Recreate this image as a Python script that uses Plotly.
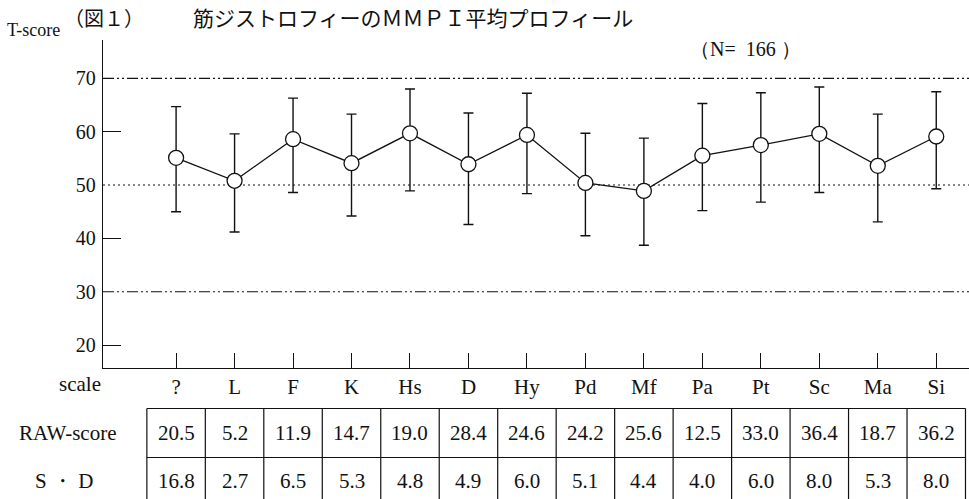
import plotly.graph_objects as go

# ---------------- data ----------------
scales = ["?", "L", "F", "K", "Hs", "D", "Hy", "Pd", "Mf", "Pa", "Pt", "Sc", "Ma", "Si"]
t_mean = [55.1, 50.8, 58.6, 54.1, 59.7, 53.9, 59.4, 50.4, 48.9, 55.5, 57.5, 59.6, 53.6, 59.1]
t_upper = [64.7, 59.6, 66.3, 63.3, 68.0, 63.5, 67.2, 59.7, 58.8, 65.3, 67.3, 68.4, 63.3, 67.5]
t_lower = [45.0, 41.2, 48.6, 44.2, 48.9, 42.6, 48.4, 40.5, 38.7, 45.2, 46.8, 48.6, 43.1, 49.3]
raw_score = ["20.5", "5.2", "11.9", "14.7", "19.0", "28.4", "24.6", "24.2", "25.6", "12.5", "33.0", "36.4", "18.7", "36.2"]
raw_sd = ["16.8", "2.7", "6.5", "5.3", "4.8", "4.9", "6.0", "5.1", "4.4", "4.0", "6.0", "8.0", "5.3", "8.0"]
ref_lines = [70, 50, 30]
ytick_labels = [20, 30, 40, 50, 60, 70]
ytick_marks = [20, 40, 60]
title_a = "（図１）"
title_b = "筋ジストロフィーのＭＭＰＩ平均プロフィール"
n_text = "（N=  166 ）"

# ---------------- styling ----------------
SERIF = "Liberation Serif, Times New Roman, serif"
CJK = "Noto Sans CJK JP, sans-serif"
INK = "#111111"

W, H = 969, 499
L_M, R_M, T_M, B_M = 103, 0, 40, 131
plot_h = H - T_M - B_M
plot_w = W - L_M - R_M


def py(px):  # pixel y -> paper y
    return (H - B_M - px) / plot_h


def pxx(px):  # pixel x -> paper x
    return (px - L_M) / plot_w


err_plus = [u - m for u, m in zip(t_upper, t_mean)]
err_minus = [m - l for m, l in zip(t_mean, t_lower)]

fig = go.Figure()

fig.add_trace(go.Scatter(
    x=scales, y=t_mean, mode="lines+markers",
    line=dict(color=INK, width=1.3),
    marker=dict(size=15, color="white", line=dict(color=INK, width=1.3)),
    error_y=dict(type="data", array=err_plus, arrayminus=err_minus,
                 color=INK, thickness=1.4, width=5),
    showlegend=False, hoverinfo="x+y",
))
# invisible trace to carry the tick-mark axis
fig.add_trace(go.Scatter(x=[scales[0]], y=[None], yaxis="y2", showlegend=False,
                         hoverinfo="skip", mode="markers"))

# reference lines
for v in ref_lines:
    dash = "2px,3px" if v == 50 else "11px,3px,2px,3px,2px,3px"
    fig.add_shape(type="line", xref="paper", yref="y", x0=0, x1=1, y0=v, y1=v,
                  line=dict(color=INK, width=1.1, dash=dash), layer="below")

# table lines
tbl_top, tbl_mid, tbl_bot = py(408.5), py(457.5), py(510)
n = len(scales)
fig.add_shape(type="line", xref="x", yref="paper", x0=-0.5, x1=n - 0.5,
              y0=tbl_top, y1=tbl_top, line=dict(color=INK, width=1.2))
fig.add_shape(type="line", xref="x", yref="paper", x0=-0.5, x1=n - 0.5,
              y0=tbl_mid, y1=tbl_mid, line=dict(color=INK, width=1.2))
for i in range(n + 1):
    fig.add_shape(type="line", xref="x", yref="paper", x0=i - 0.5, x1=i - 0.5,
                  y0=tbl_top, y1=tbl_bot, line=dict(color=INK, width=1.2))


def label(x, y, text, family, size, xref="paper"):
    fig.add_annotation(x=x, y=y, xref=xref, yref="paper", text=text, showarrow=False,
                       xanchor="center", yanchor="middle",
                       font=dict(family=family, size=size, color=INK))


# table values
for s, r, d in zip(scales, raw_score, raw_sd):
    label(s, py(433), r, SERIF, 21, xref="x")
    label(s, py(481), d, SERIF, 21, xref="x")

# row labels
label(pxx(80), py(384), "scale", SERIF, 21)
label(pxx(67), py(433), "RAW-score", SERIF, 21)
label(pxx(64), py(481), "S ・ D", SERIF, 21)

# titles
label(pxx(104), py(17), title_a, CJK, 20)
label(pxx(413), py(17), title_b, CJK, 21)
label(pxx(745), py(49), n_text, SERIF, 20)
label(pxx(33), py(30), "T-score", SERIF, 18)

yr = [15.69, 77.2]
fig.update_layout(
    width=W, height=H,
    margin=dict(l=L_M, r=R_M, t=T_M, b=B_M, pad=0),
    paper_bgcolor="white", plot_bgcolor="white",
    xaxis=dict(type="category", range=[-1.25, 13.56], showgrid=False, zeroline=False,
               showline=True, linecolor=INK, linewidth=1.3,
               ticks="inside", ticklen=15, tickwidth=1.4, tickcolor=INK,
               tickfont=dict(family=SERIF, size=21, color=INK), ticklabelstandoff=0),
    yaxis=dict(range=yr, tickvals=ytick_labels, showgrid=False, zeroline=False,
               showline=True, linecolor=INK, linewidth=1.3, ticks="",
               tickfont=dict(family=SERIF, size=20, color=INK), ticklabelstandoff=2),
    yaxis2=dict(range=yr, overlaying="y", side="left", tickvals=ytick_marks,
                showticklabels=False, ticks="inside", ticklen=18, tickwidth=1.4,
                tickcolor=INK, showgrid=False, zeroline=False, showline=False),
)

fig.write_html("out.html", config={"displayModeBar": False},
               post_script="document.body.style.margin='0px';")
